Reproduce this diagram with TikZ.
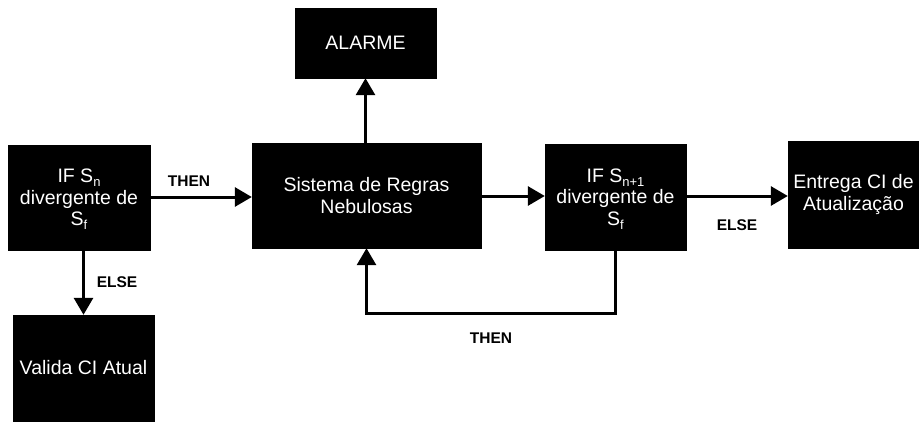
\documentclass[tikz,border=0pt]{standalone}
\usepackage{fontspec}
\setmainfont{Liberation Sans}
\usetikzlibrary{arrows.meta}
\newcommand{\subtxt}[1]{\raisebox{-0.4ex}[0pt][0pt]{\fontsize{13}{13}\selectfont #1}}
\begin{document}
\begin{tikzpicture}[x=1pt,y=-1pt,
  blk/.style={fill=black,draw=black,text=white,align=center,
    font=\fontsize{19.5}{21.5}\selectfont,inner sep=0pt},
  conn/.style={line width=3pt,-{Triangle[length=17pt,width=19pt]}},
  lbl/.style={font=\bfseries\fontsize{15.5}{18}\selectfont}]
\useasboundingbox (0,0) rectangle (919,421);
\node[blk,minimum width=142pt,minimum height=105pt] (cond1) at (79,197.5)
  {IF S\subtxt{n}\\divergente de\\S\subtxt{f}};
\node[blk,minimum width=229pt,minimum height=105pt] (sist) at (366.5,195.5)
  {Sistema de Regras\\Nebulosas};
\node[blk,minimum width=141pt,minimum height=70pt] (alarme) at (365.5,43)
  {ALARME};
\node[blk,minimum width=141pt,minimum height=106pt] (cond2) at (615.5,197)
  {IF S\subtxt{n+1}\\divergente de\\S\subtxt{f}};
\node[blk,minimum width=131pt,minimum height=107pt] (entrega) at (853.5,194.5)
  {Entrega CI de\\Atualização};
\node[blk,minimum width=141pt,minimum height=106pt] (valida) at (83.5,368)
  {Valida CI Atual};
\coordinate (loopy) at (0,313);
\draw[conn] (cond1.east |- 0,197) -- (sist.west |- 0,197);
\draw[conn] (sist.east |- 0,196) -- (cond2.west |- 0,196);
\draw[conn] (cond2.east |- 0,196) -- (entrega.west |- 0,196);
\draw[conn] (sist.north -| alarme) -- (alarme.south);
\draw[conn] (valida.north |- cond1.south) -- (valida.north);
\draw[conn] (cond2.south) -- (cond2.south |- loopy) -| (sist.south);
\node[lbl] (t1) at (189,181) {THEN};
\node[lbl] (e1) at (117,282) {ELSE};
\node[lbl] (e2) at (737,225) {ELSE};
\node[lbl] (t2) at (491,338) {THEN};
\end{tikzpicture}
\end{document}
